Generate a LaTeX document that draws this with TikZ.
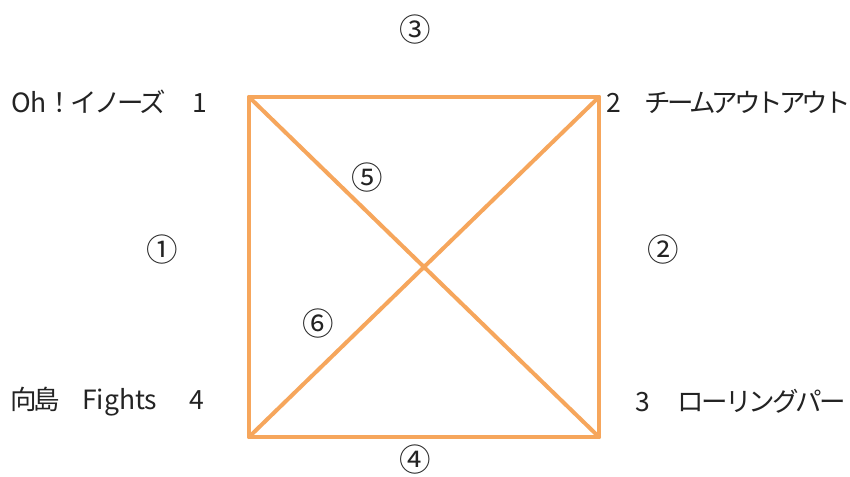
\documentclass[tikz,border=0pt]{standalone}
\usepackage{fontspec}
\setmainfont{Noto Sans CJK JP}
\newfontfamily\jpfont[LetterSpace=-11]{Noto Sans CJK JP}
\newfontfamily\jpnarrow[LetterSpace=-15]{Noto Sans CJK JP}
\definecolor{edgeorange}{RGB}{246,166,92}
\definecolor{txtgray}{RGB}{35,35,35}
\newcommand{\jp}[1]{{\jpfont #1}}
\newcommand{\jpn}[1]{{\jpnarrow #1}}
\begin{document}
\begin{tikzpicture}[x=1pt,y=-1pt,
  edge/.style={draw=edgeorange,line width=4pt,line cap=round,line join=round},
  team/.style={inner sep=0pt,text=txtgray,font=\fontsize{26.5}{29}\selectfont},
  num/.style={inner sep=0pt,text=txtgray,font=\fontsize{31.5}{33}\selectfont}]
\useasboundingbox (0,0) rectangle (850,476);
\fill[white] (0,0) rectangle (850,476);
\coordinate (A) at (249,97);
\coordinate (B) at (599,97);
\coordinate (C) at (599,437);
\coordinate (D) at (249,437);
\draw[edge] (A) -- (B) -- (C) -- (D) -- cycle;
\draw[edge] (A) -- (C);
\draw[edge] (B) -- (D);
\node[team,anchor=base west] (t1) at (11,112) {Oh\jp{！イノーズ}\hspace{26pt}1};
\node[team,anchor=base west] (t2) at (606,112) {2\hspace{24pt}\jpn{チームアウトアウト}};
\node[team,anchor=base west] (t3) at (635,411) {3\hspace{28pt}\jp{ローリングパー}};
\node[team,anchor=base west] (t4) at (10,409) {\jp{向島}\hspace{22pt}Fights\hspace{32pt}4};
\node[num] (n1) at (162,250) {①};
\node[num] (n2) at (663,250) {②};
\node[num] (n3) at (415,30) {③};
\node[num] (n4) at (415,460) {④};
\node[num] (n5) at (367,178) {⑤};
\node[num] (n6) at (318,324) {⑥};
\end{tikzpicture}
\end{document}
